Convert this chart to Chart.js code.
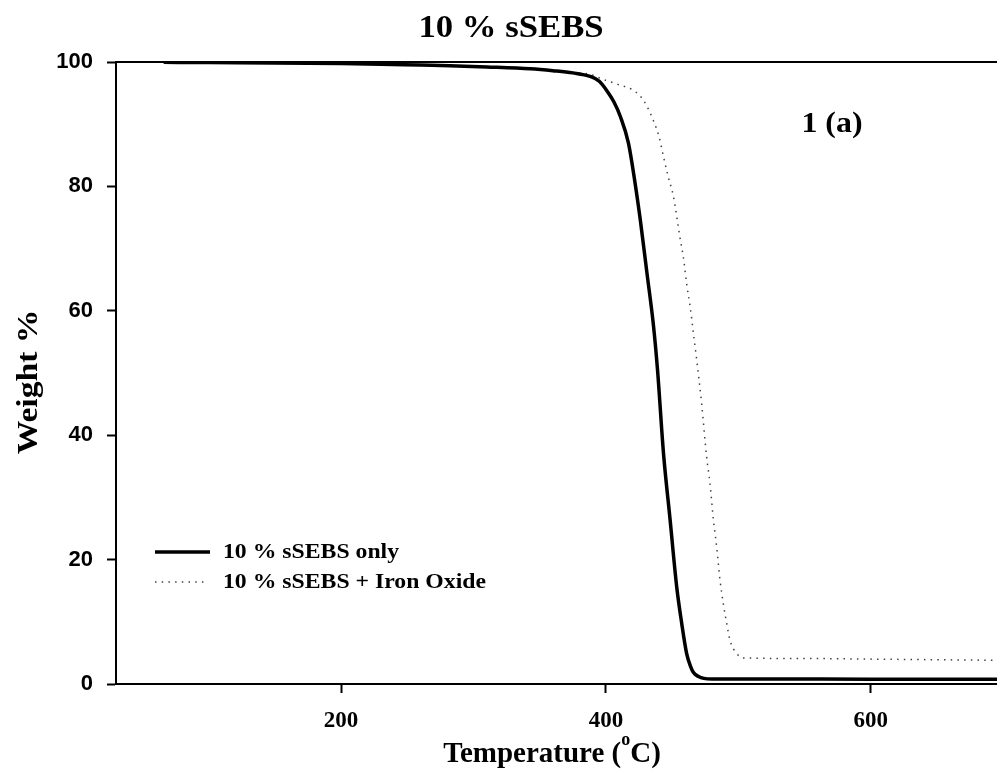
<!DOCTYPE html>
<html>
<head>
<meta charset="utf-8">
<script src="https://cdn.jsdelivr.net/npm/chart.js@4.4.0/dist/chart.umd.min.js"></script>
<style>
  html, body { margin: 0; padding: 0; background: #fff; overflow: hidden; }
  canvas { display: block; }
</style>
</head>
<body>
<canvas id="tga" width="997" height="771"></canvas>
<script>
// Thermogravimetric curves: weight loss of sulfonated SEBS films on heating
const chartTitle = '10 % sSEBS';
const panelLabel = '1 (a)';
const yAxisTitle = 'Weight %';
const xAxisTitleMain = 'Temperature (';
const xAxisTitleSup = 'o';
const xAxisTitleEnd = 'C)';
const seriesNames = ['10 % sSEBS only', '10 % sSEBS + Iron Oxide'];

const xTicks = [200, 400, 600];
const yTicks = [0, 20, 40, 60, 80, 100];

// 10 % sSEBS only
const tempOnly = [66, 100, 150, 200, 230, 260, 282, 310, 343, 360, 375, 388, 395, 401, 406, 411,
  417, 422, 426, 431, 436, 439, 443.5, 448.5, 453.5, 457.3, 461, 464, 466, 470, 474, 480, 520, 600, 700];
const weightOnly = [99.95, 99.9, 99.85, 99.75, 99.65, 99.5, 99.4, 99.2, 98.9, 98.6, 98.25, 97.7, 96.9, 95.3, 93.6, 91.2,
  87.0, 80.6, 74.6, 66.1, 57.5, 50.5, 37.1, 26.4, 15.6, 9.7, 4.9, 2.8, 1.9, 1.2, 0.9, 0.8, 0.8, 0.78, 0.75];

// 10 % sSEBS + iron oxide
const tempOxide = [56, 100, 150, 200, 260, 310, 343, 370, 388, 398, 409, 419.5, 426, 431, 436, 440,
  443.5, 447, 451, 456, 458.6, 461.1, 463.6, 466.1, 468.6, 472.3, 476.1, 478.6, 481.1, 483.7, 486.2,
  488.7, 491.3, 493.8, 498.8, 504, 550, 600, 650, 700];
const weightOxide = [99.95, 99.9, 99.85, 99.75, 99.5, 99.25, 98.9, 98.4, 98.0, 97.2, 96.4, 95.6, 94.5, 92.9, 90.5, 88.1,
  84.8, 81.6, 78.4, 71.7, 68.5, 64.2, 60.7, 56.4, 52.1, 45.1, 36.5, 32.3, 26.6, 22.0, 16.7,
  12.9, 9.7, 7.0, 4.9, 4.2, 4.1, 4.0, 3.9, 3.8];

const SERIF = "'Liberation Serif', 'Times New Roman', serif";
const SANS = "'Liberation Sans', Arial, sans-serif";

const toPoints = (xs, ys) => xs.map((x, i) => ({ x, y: ys[i] }));

// Draws text widened along its own baseline by factor sx
function wideText(ctx, text, x, y, sx, align) {
  ctx.save();
  ctx.translate(x, y);
  ctx.scale(sx, 1);
  ctx.textAlign = align;
  ctx.fillText(text, 0, 0);
  ctx.restore();
}

// Frame line along the top of the plot area
const framePlugin = {
  id: 'frameTop',
  afterDraw(chart) {
    const { ctx, chartArea } = chart;
    ctx.save();
    ctx.strokeStyle = '#000';
    ctx.lineWidth = 2;
    ctx.beginPath();
    ctx.moveTo(chartArea.left - 1, chartArea.top);
    ctx.lineTo(chartArea.right, chartArea.top);
    ctx.stroke();
    ctx.restore();
  }
};

// Title, panel tag and axis titles
const textPlugin = {
  id: 'texts',
  afterDraw(chart) {
    const { ctx } = chart;
    ctx.save();
    ctx.fillStyle = '#000';
    ctx.textBaseline = 'alphabetic';

    ctx.font = 'bold 31px ' + SERIF;
    wideText(ctx, chartTitle, 511, 37, 1.12, 'center');

    ctx.font = 'bold 29px ' + SERIF;
    wideText(ctx, panelLabel, 832, 132, 1.1, 'center');

    // y axis title, rotated
    ctx.save();
    ctx.translate(37, 382);
    ctx.rotate(-Math.PI / 2);
    ctx.font = 'bold 30px ' + SERIF;
    wideText(ctx, yAxisTitle, 0, 0, 1.12, 'center');
    ctx.restore();

    // x axis title with superscript degree mark
    const mainFont = 'bold 29px ' + SERIF;
    const supFont = 'bold 18px ' + SERIF;
    ctx.textAlign = 'left';
    ctx.font = mainFont;
    const w1 = ctx.measureText(xAxisTitleMain).width;
    const w3 = ctx.measureText(xAxisTitleEnd).width;
    ctx.font = supFont;
    const w2 = ctx.measureText(xAxisTitleSup).width;
    const total = w1 + w2 + w3;
    let x = 552 - total / 2;
    const base = 762;
    ctx.font = mainFont;
    ctx.fillText(xAxisTitleMain, x, base);
    x += w1;
    ctx.font = supFont;
    ctx.fillText(xAxisTitleSup, x, base - 17);
    x += w2;
    ctx.font = mainFont;
    ctx.fillText(xAxisTitleEnd, x, base);
    ctx.restore();
  }
};

// Legend inside the plot, drawn from the dataset styles
const legendPlugin = {
  id: 'innerLegend',
  afterDraw(chart) {
    const { ctx } = chart;
    const rows = [552, 582];
    const sampleEnds = [210, 207];
    ctx.save();
    chart.data.datasets.forEach((ds, i) => {
      const y = rows[i];
      ctx.strokeStyle = ds.borderColor;
      ctx.lineWidth = ds.borderWidth;
      ctx.setLineDash(ds.borderDash || []);
      ctx.beginPath();
      ctx.moveTo(155, y);
      ctx.lineTo(sampleEnds[i], y);
      ctx.stroke();
      ctx.setLineDash([]);
      ctx.fillStyle = '#000';
      ctx.font = 'bold 21px ' + SERIF;
      ctx.textBaseline = 'middle';
      wideText(ctx, ds.label, 223, y + 1, 1.13, 'left');
    });
    ctx.restore();
  }
};

new Chart(document.getElementById('tga'), {
  type: 'line',
  data: {
    datasets: [
      {
        label: seriesNames[0],
        data: toPoints(tempOnly, weightOnly),
        borderColor: '#000',
        borderWidth: 3.5,
        pointRadius: 0,
        cubicInterpolationMode: 'monotone',
        fill: false
      },
      {
        label: seriesNames[1],
        data: toPoints(tempOxide, weightOxide),
        borderColor: 'rgba(0,0,0,0.75)',
        borderWidth: 1.5,
        borderDash: [1.5, 5.2],
        pointRadius: 0,
        cubicInterpolationMode: 'monotone',
        fill: false
      }
    ]
  },
  options: {
    responsive: false,
    animation: false,
    devicePixelRatio: 1,
    layout: { padding: { top: 62, right: 0, bottom: 0, left: 0 } },
    plugins: {
      legend: { display: false },
      title: { display: false },
      tooltip: { enabled: false }
    },
    scales: {
      x: {
        type: 'linear',
        min: 30,
        max: 695.4,
        afterBuildTicks(axis) { axis.ticks = xTicks.map(v => ({ value: v })); },
        afterFit(axis) { axis.height = 87; },
        grid: { drawOnChartArea: false, drawTicks: true, tickLength: 9, tickWidth: 2, tickColor: '#000' },
        border: { display: true, color: '#000', width: 2 },
        ticks: {
          color: '#000',
          padding: 14,
          maxRotation: 0,
          font: { family: SERIF, size: 23, weight: 'bold' }
        }
      },
      y: {
        type: 'linear',
        min: 0,
        max: 100,
        afterBuildTicks(axis) { axis.ticks = yTicks.map(v => ({ value: v })); },
        afterFit(axis) { axis.width = 116; },
        grid: { drawOnChartArea: false, drawTicks: true, tickLength: 9, tickWidth: 2, tickColor: '#000' },
        border: { display: true, color: '#000', width: 2 },
        ticks: {
          color: '#000',
          padding: 14,
          font: { family: SANS, size: 22, weight: 'bold' }
        }
      }
    }
  },
  plugins: [framePlugin, textPlugin, legendPlugin]
});
</script>
</body>
</html>
